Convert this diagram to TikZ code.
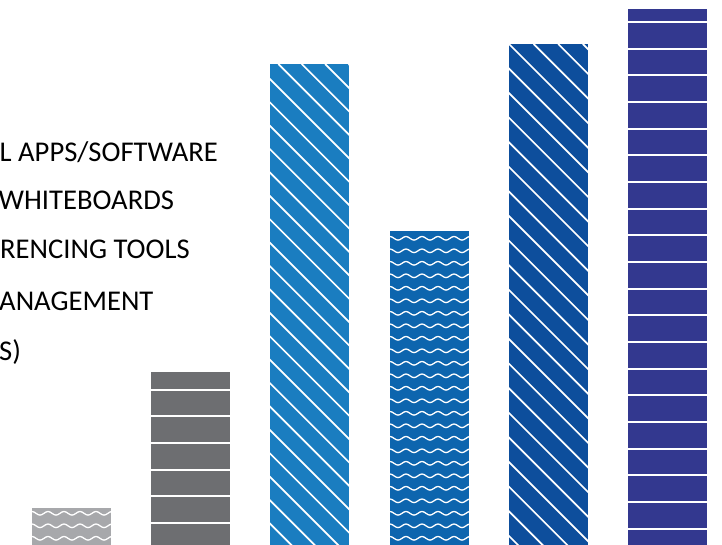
\documentclass[tikz,border=0pt]{standalone}
\usepackage{fontspec}
\setmainfont{Carlito}
\begin{document}
\begin{tikzpicture}[x=1pt,y=-1pt]
\useasboundingbox[fill=white] (0,0) rectangle (722,545);
\definecolor{cgrayL}{HTML}{A7A8AB}
\definecolor{cgrayD}{HTML}{6D6E71}
\definecolor{cblueA}{HTML}{1A7DC0}
\definecolor{cblueB}{HTML}{0D65AE}
\definecolor{cblueC}{HTML}{0D4E9C}
\definecolor{cindigo}{HTML}{33388F}
\tikzset{
  lbl/.style={anchor=base west, inner sep=0pt, font=\fontsize{28.6}{34}\selectfont},
  waveline/.style={white, line width=1.3pt},
  diagline/.style={white, line width=1.7pt},
  hline/.style={white, line width=2pt}
}
% labels
\node[lbl] (t1) at (-0.5,161.7) {L APPS/SOFTWARE};
\node[lbl] (t2) at (-1.5,210) {WHITEBOARDS};
\node[lbl] (t3) at (0,258.3) {RENCING TOOLS};
\node[lbl] (t4) at (-1,310) {ANAGEMENT};
\node[lbl] (t5) at (-1,360) {S)};

% bar 1: light grey, waves
\fill[cgrayL] (32,508) rectangle (111,545);
\begin{scope}
\clip (32,508) rectangle (111,545);
\foreach \r in {0,1,2,3}{
  \draw[waveline] (28,513.3+12.5*\r) \foreach \p in {1,...,6}{ sin ++(4,-1.8) cos ++(4,1.8) sin ++(4,1.8) cos ++(4,-1.8) };
}
\end{scope}

% bar 2: dark grey, horizontal lines
\fill[cgrayD] (151,372) rectangle (230,545);
\begin{scope}
\clip (151,372) rectangle (230,545);
\foreach \r in {0,...,6}{
  \draw[hline] (150,389.7+26.67*\r) -- (231,389.7+26.67*\r);
}
\end{scope}

% bar 3: blue, diagonals
\fill[cblueA] (270,64) rectangle (349,545);
\begin{scope}
\clip (270,64) rectangle (349,545);
\foreach \k in {-22,...,4}{
  \draw[diagline] (278.3+23.4*\k,64) -- ++(520,520);
}
\end{scope}

% bar 4: blue, waves
\fill[cblueB] (390,231) rectangle (469,545);
\begin{scope}
\clip (390,231) rectangle (469,545);
\foreach \r in {0,...,25}{
  \draw[waveline] (386,238.3+12.5*\r) \foreach \p in {1,...,6}{ sin ++(4,-1.8) cos ++(4,1.8) sin ++(4,1.8) cos ++(4,-1.8) };
}
\end{scope}

% bar 5: dark blue, diagonals
\fill[cblueC] (509,44) rectangle (588,545);
\begin{scope}
\clip (509,44) rectangle (588,545);
\foreach \k in {-22,...,4}{
  \draw[diagline] (509+24.6*\k,44) -- ++(540,540);
}
\end{scope}

% bar 6: indigo, horizontal lines
\fill[cindigo] (628,9) rectangle (707,545);
\begin{scope}
\clip (628,9) rectangle (707,545);
\foreach \r in {0,...,19}{
  \draw[hline] (627,22+26.67*\r) -- (708,22+26.67*\r);
}
\end{scope}
\end{tikzpicture}
\end{document}
